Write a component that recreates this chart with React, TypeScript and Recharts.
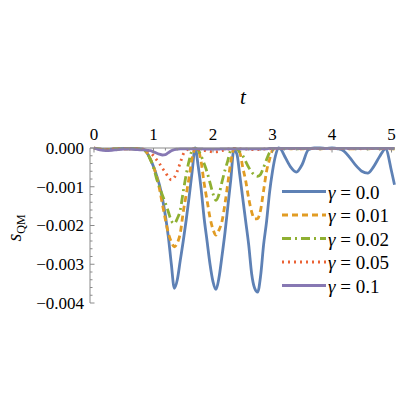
import { LineChart, Line, XAxis, YAxis } from "recharts";

// time grid (shared by all series)
const T = [
  0, 0.1, 0.2, 0.3, 0.4, 0.5, 0.6, 0.7, 0.8,
  0.85, 0.9, 0.95, 1.0, 1.05, 1.1, 1.15, 1.2, 1.25, 1.3, 1.35, 1.4, 1.45, 1.5, 1.55, 1.6, 1.65, 1.7, 1.75, 1.8, 1.85, 1.9, 1.95, 2.0,
  2.05, 2.1, 2.15, 2.2, 2.25, 2.3, 2.35, 2.4, 2.45, 2.5, 2.55, 2.6, 2.65, 2.7, 2.75, 2.8, 2.85, 2.9, 2.95, 3.0, 3.05, 3.1, 3.15, 3.2,
  3.3, 3.4, 3.5, 3.6, 3.7, 3.8, 3.9, 4.0, 4.1, 4.2, 4.3, 4.4, 4.5, 4.6, 4.7, 4.8, 4.9, 5.0, 5.05,
];

// s_QM for gamma = 0.0
const S_G0 = [
  0, -0.03e-3, -0.04e-3, -0.03e-3, -0.02e-3, -0.01e-3, -0.01e-3, -0.01e-3, -0.02e-3,
  -0.05e-3, -0.15e-3, -0.3e-3, -0.48e-3, -0.7e-3, -0.95e-3, -1.3e-3, -1.75e-3, -2.3e-3, -3.0e-3, -3.62e-3, -3.4e-3, -2.9e-3, -2.4e-3, -1.85e-3, -1.25e-3, -0.6e-3, 0, -0.45e-3, -1.05e-3, -1.8e-3, -2.4e-3, -3.0e-3, -3.45e-3,
  -3.65e-3, -3.35e-3, -2.8e-3, -2.2e-3, -1.5e-3, -0.8e-3, -0.05e-3, -0.15e-3, -0.7e-3, -1.3e-3, -1.9e-3, -2.5e-3, -3.25e-3, -3.62e-3, -3.72e-3, -3.3e-3, -2.5e-3, -1.9e-3, -1.15e-3, -0.6e-3, -0.2e-3, 0, -0.05e-3, -0.2e-3,
  -0.48e-3, -0.62e-3, -0.42e-3, -0.05e-3, 0, 0, -0.01e-3, 0, -0.02e-3, -0.08e-3, -0.25e-3, -0.45e-3, -0.6e-3, -0.65e-3, -0.48e-3, -0.22e-3, -0.02e-3, -0.6e-3, -0.95e-3,
];

// gamma = 0.01
const S_G1 = [
  0, -0.03e-3, -0.04e-3, -0.03e-3, -0.02e-3, -0.02e-3, -0.02e-3, -0.02e-3, -0.03e-3,
  -0.05e-3, -0.15e-3, -0.3e-3, -0.48e-3, -0.72e-3, -1.05e-3, -1.45e-3, -1.85e-3, -2.2e-3, -2.42e-3, -2.55e-3, -2.45e-3, -2.2e-3, -1.65e-3, -1.2e-3, -0.75e-3, -0.25e-3, -0.02e-3, -0.05e-3, -0.35e-3, -0.9e-3, -1.35e-3, -1.8e-3, -2.1e-3,
  -2.25e-3, -2.12e-3, -1.9e-3, -1.45e-3, -0.9e-3, -0.35e-3, -0.02e-3, -0.05e-3, -0.12e-3, -0.5e-3, -0.85e-3, -1.3e-3, -1.65e-3, -1.83e-3, -1.82e-3, -1.6e-3, -1.1e-3, -0.6e-3, -0.3e-3, -0.06e-3, -0.01e-3, -0.01e-3, -0.01e-3, -0.01e-3,
  -0.02e-3, -0.01e-3, -0.02e-3, -0.01e-3, -0.01e-3, -0.02e-3, -0.01e-3, -0.01e-3, -0.02e-3, -0.01e-3, -0.02e-3, -0.02e-3, -0.01e-3, -0.02e-3, -0.01e-3, -0.02e-3, -0.01e-3, -0.02e-3, -0.02e-3,
];

// gamma = 0.02
const S_G2 = [
  0, -0.03e-3, -0.04e-3, -0.03e-3, -0.02e-3, -0.02e-3, -0.02e-3, -0.03e-3, -0.04e-3,
  -0.06e-3, -0.15e-3, -0.3e-3, -0.5e-3, -0.78e-3, -1.0e-3, -1.22e-3, -1.42e-3, -1.65e-3, -1.88e-3, -1.95e-3, -1.82e-3, -1.6e-3, -1.12e-3, -0.68e-3, -0.32e-3, -0.06e-3, -0.01e-3, -0.05e-3, -0.2e-3, -0.4e-3, -0.62e-3, -0.9e-3, -1.18e-3,
  -1.35e-3, -1.2e-3, -0.88e-3, -0.58e-3, -0.32e-3, -0.05e-3, -0.01e-3, -0.03e-3, -0.1e-3, -0.2e-3, -0.35e-3, -0.5e-3, -0.62e-3, -0.7e-3, -0.73e-3, -0.68e-3, -0.5e-3, -0.3e-3, -0.12e-3, -0.03e-3, -0.01e-3, -0.01e-3, -0.01e-3, -0.01e-3,
  -0.01e-3, -0.02e-3, -0.01e-3, -0.01e-3, -0.01e-3, -0.01e-3, -0.02e-3, -0.01e-3, -0.01e-3, -0.01e-3, -0.02e-3, -0.01e-3, -0.01e-3, -0.02e-3, -0.01e-3, -0.01e-3, -0.01e-3, -0.01e-3, -0.02e-3,
];

// gamma = 0.05
const S_G5 = [
  0, -0.03e-3, -0.04e-3, -0.03e-3, -0.02e-3, -0.02e-3, -0.02e-3, -0.02e-3, -0.03e-3,
  -0.03e-3, -0.06e-3, -0.12e-3, -0.2e-3, -0.3e-3, -0.4e-3, -0.52e-3, -0.63e-3, -0.75e-3, -0.82e-3, -0.76e-3, -0.6e-3, -0.38e-3, -0.16e-3, -0.06e-3, -0.03e-3, -0.02e-3, -0.03e-3, -0.04e-3, -0.05e-3, -0.06e-3, -0.08e-3, -0.09e-3, -0.1e-3,
  -0.1e-3, -0.09e-3, -0.07e-3, -0.05e-3, -0.03e-3, -0.02e-3, -0.01e-3, -0.01e-3, -0.02e-3, -0.02e-3, -0.03e-3, -0.03e-3, -0.04e-3, -0.04e-3, -0.04e-3, -0.03e-3, -0.03e-3, -0.02e-3, -0.02e-3, -0.01e-3, -0.01e-3, -0.01e-3, -0.01e-3, -0.01e-3,
  -0.01e-3, -0.01e-3, -0.02e-3, -0.01e-3, -0.01e-3, -0.01e-3, -0.01e-3, -0.02e-3, -0.01e-3, -0.01e-3, -0.01e-3, -0.01e-3, -0.02e-3, -0.01e-3, -0.01e-3, -0.01e-3, -0.01e-3, -0.01e-3, -0.01e-3,
];

// gamma = 0.1
const S_G10 = [
  0, -0.05e-3, -0.07e-3, -0.06e-3, -0.04e-3, -0.03e-3, -0.03e-3, -0.04e-3, -0.05e-3,
  -0.05e-3, -0.06e-3, -0.07e-3, -0.1e-3, -0.13e-3, -0.16e-3, -0.18e-3, -0.17e-3, -0.12e-3, -0.07e-3, -0.04e-3, -0.03e-3, -0.02e-3, -0.02e-3, -0.02e-3, -0.02e-3, -0.02e-3, -0.02e-3, -0.02e-3, -0.02e-3, -0.03e-3, -0.03e-3, -0.03e-3, -0.03e-3,
  -0.03e-3, -0.03e-3, -0.02e-3, -0.02e-3, -0.02e-3, -0.02e-3, -0.02e-3, -0.02e-3, -0.02e-3, -0.02e-3, -0.02e-3, -0.02e-3, -0.02e-3, -0.02e-3, -0.02e-3, -0.02e-3, -0.02e-3, -0.02e-3, -0.01e-3, -0.01e-3, -0.01e-3, -0.01e-3, -0.01e-3, -0.01e-3,
  -0.01e-3, -0.01e-3, -0.01e-3, -0.01e-3, -0.01e-3, -0.01e-3, -0.01e-3, -0.01e-3, -0.01e-3, -0.01e-3, -0.01e-3, -0.01e-3, -0.01e-3, -0.01e-3, -0.01e-3, -0.01e-3, -0.01e-3, -0.01e-3, -0.01e-3,
];

const GAMMA_LABELS = ["0.0", "0.01", "0.02", "0.05", "0.1"];
const SERIES_KEYS = ["g0", "g1", "g2", "g5", "g10"];
const COLORS = ["#5e81b5", "#e19c24", "#8fb032", "#eb6235", "#8778b3"];
const DASHES = [undefined, "6 4", "9 4 2 4", "2 4", undefined];

// ticks: majors carry a label, minors are just short marks
const X_TICKS = [
  0, 0.2, 0.4, 0.6, 0.8, 1, 1.2, 1.4, 1.6, 1.8, 2, 2.2, 2.4, 2.6, 2.8,
  3, 3.2, 3.4, 3.6, 3.8, 4, 4.2, 4.4, 4.6, 4.8, 5,
];
const Y_TICKS = [
  0, -0.0002, -0.0004, -0.0006, -0.0008, -0.001, -0.0012, -0.0014, -0.0016, -0.0018,
  -0.002, -0.0022, -0.0024, -0.0026, -0.0028, -0.003, -0.0032, -0.0034, -0.0036, -0.0038, -0.004,
];

const data = T.map((t, i) => ({
  t,
  g0: S_G0[i],
  g1: S_G1[i],
  g2: S_G2[i],
  g5: S_G5[i],
  g10: S_G10[i],
}));

const AXIS = "#8a8a8a";
const SERIF = { fontFamily: '"Liberation Serif"' };
const X_MARGIN = 14;
const Y_MARGIN = 6;

function XTick(props: any) {
  const { x, y, payload } = props;
  const v = payload.value;
  const major = Math.abs(v - Math.round(v)) < 1e-6;
  const axisY = y + X_MARGIN;
  return (
    <g>
      <line x1={x} x2={x} y1={axisY} y2={axisY + (major ? 4.5 : 2.5)} stroke={AXIS} strokeWidth={1} />
      {major && (
        <text x={x} y={y} textAnchor="middle" dy="0.35em" style={SERIF} fontSize={17} fill="#000">
          {Math.round(v)}
        </text>
      )}
    </g>
  );
}

function YTick(props: any) {
  const { x, y, payload } = props;
  const v = payload.value;
  const k = v * 1000;
  const major = Math.abs(k - Math.round(k)) < 1e-6;
  const axisX = x + Y_MARGIN;
  const label = v === 0 ? "0.000" : "\u2212" + Math.abs(v).toFixed(3);
  return (
    <g>
      <line x1={axisX} x2={axisX + (major ? 4.5 : 2.5)} y1={y} y2={y} stroke={AXIS} strokeWidth={1} />
      {major && (
        <text x={x} y={y} textAnchor="end" dy="0.35em" style={SERIF} fontSize={17} fill="#000">
          {label}
        </text>
      )}
    </g>
  );
}

const html = (left: number, top: number, extra: any = {}) => ({
  position: "absolute" as const,
  left,
  top,
  lineHeight: 1,
  whiteSpace: "nowrap" as const,
  color: "#000",
  ...SERIF,
  ...extra,
});

export default function App() {
  return (
    <div style={{ position: "absolute", left: 0, top: 0, width: 400, height: 400, background: "#fff" }}>
      <LineChart
        width={400}
        height={400}
        data={data}
        margin={{ top: 0, right: 5.5, bottom: 97, left: 0 }}
      >
        <XAxis
          dataKey="t"
          type="number"
          orientation="top"
          domain={[-0.067, 5.05]}
          ticks={X_TICKS}
          interval={0}
          height={148}
          tickSize={0}
          tickMargin={X_MARGIN}
          tickLine={false}
          axisLine={{ stroke: AXIS }}
          tick={<XTick />}
        />
        <YAxis
          type="number"
          domain={[-0.004, 0]}
          ticks={Y_TICKS}
          interval={0}
          width={90}
          tickSize={0}
          tickMargin={Y_MARGIN}
          tickLine={false}
          axisLine={{ stroke: AXIS }}
          tick={<YTick />}
        />
        {SERIES_KEYS.map((k, i) => (
          <Line
            key={k}
            type="monotone"
            dataKey={k}
            stroke={COLORS[i]}
            strokeWidth={2.8}
            strokeDasharray={DASHES[i]}
            dot={false}
            isAnimationActive={false}
          />
        ))}
      </LineChart>
      <svg
        width={400}
        height={400}
        style={{ position: "absolute", left: 0, top: 0, pointerEvents: "none" }}
      >
        {GAMMA_LABELS.map((g, i) => {
          const y = 191.5 + i * 23.5;
          return (
            <line key={g} x1={282} x2={326} y1={y} y2={y} stroke={COLORS[i]} strokeWidth={2.8} strokeDasharray={DASHES[i]} />
          );
        })}
      </svg>
      {/* axis titles and legend text as HTML */}
      <div style={html(243, 97, { fontSize: 21, fontStyle: "italic", transform: "translate(-50%, -50%)" })}>t</div>
      <div style={html(14, 228, { fontSize: 20, transform: "translate(-50%, -50%) rotate(-90deg)" })}>
        <span style={{ fontStyle: "italic" }}>s</span>
        <span style={{ fontSize: 12, position: "relative", top: 4 }}>QM</span>
      </div>
      {GAMMA_LABELS.map((g, i) => (
        <div key={g} style={html(328, 191.5 + i * 23.5, { fontSize: 19, transform: "translateY(-50%)" })}>
          <span style={{ fontStyle: "italic" }}>γ</span>
          {"\u00a0=\u00a0"}
          {g}
        </div>
      ))}
    </div>
  );
}
